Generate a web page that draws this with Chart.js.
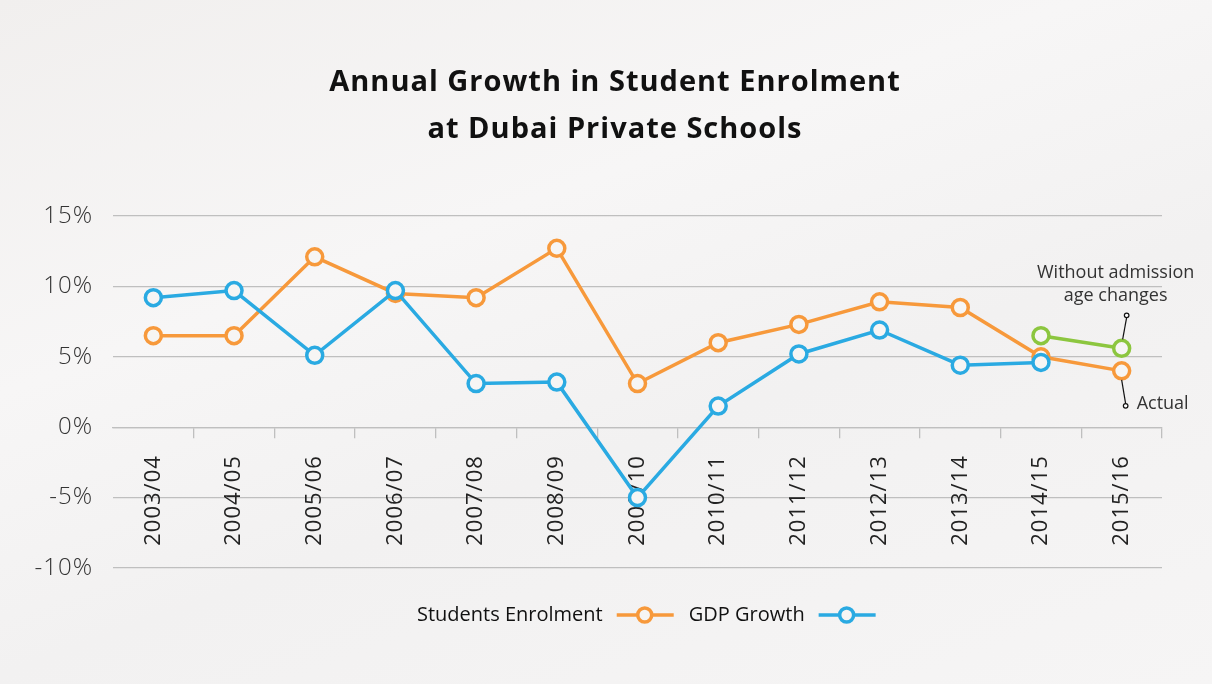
<!DOCTYPE html>
<html>
<head>
<meta charset="utf-8">
<script src="https://cdn.jsdelivr.net/npm/chart.js@4.4.1/dist/chart.umd.min.js"></script>
<style>
  html, body { margin: 0; padding: 0; width: 1212px; height: 684px; overflow: hidden;
    background: linear-gradient(160deg, #f1efee 0%, #f7f6f6 35%, #f2f1f1 60%, #f6f5f5 100%); }
  #wrap { position: relative; width: 1212px; height: 684px; }
</style>
</head>
<body>
<div id="wrap"><canvas id="c" width="1212" height="684"></canvas></div>
<script>
const categories = ['2003/04','2004/05','2005/06','2006/07','2007/08','2008/09','2009/10','2010/11','2011/12','2012/13','2013/14','2014/15','2015/16'];
const studentsEnrolment = [6.5, 6.5, 12.1, 9.5, 9.2, 12.7, 3.1, 6.0, 7.3, 8.9, 8.5, 5.0, 4.0];
const gdpGrowth = [9.2, 9.7, 5.1, 9.7, 3.1, 3.2, -5.0, 1.5, 5.2, 6.9, 4.4, 4.6, null];
const withoutAgeChanges = [null, null, null, null, null, null, null, null, null, null, null, 6.5, 5.6];
const yTicks = [-10, -5, 0, 5, 10, 15];
const titleLines = ['Annual Growth in Student Enrolment', 'at Dubai Private Schools'];
const legendItems = ['Students Enrolment', 'GDP Growth'];
const noteTop = ['Without admission', 'age changes'];
const noteBottom = 'Actual';

const ORANGE = '#f7993b', BLUE = '#2aaae2', GREEN = '#8cc63f', PTFILL = '#f6f5f4';
const GRID = '#bfbfbf';
const FONT = '"Open Sans", "Noto Sans", sans-serif';

const ds = (label, data, color, order) => ({
  label, data, order,
  borderColor: color, backgroundColor: color,
  borderWidth: 3.5, tension: 0, spanGaps: false,
  pointRadius: 8, pointHoverRadius: 8,
  pointBorderWidth: 3.5, pointBorderColor: color, pointBackgroundColor: PTFILL
});

const spacingPlugin = {
  id: 'spacing',
  beforeDraw(chart) { chart.ctx.letterSpacing = '1px'; },
  beforeDatasetsDraw(chart) { chart.ctx.letterSpacing = '0px'; }
};

const extrasPlugin = {
  id: 'extras',
  afterDraw(chart) {
    const ctx = chart.ctx;
    const x = chart.scales.x, y = chart.scales.y;
    ctx.save();
    ctx.letterSpacing = '0px';
    // annotations
    const last = categories.length - 1;
    const px = x.getPixelForValue(last);
    const gy = y.getPixelForValue(withoutAgeChanges[last]);
    const oy = y.getPixelForValue(studentsEnrolment[last]);
    ctx.strokeStyle = '#111'; ctx.lineWidth = 1.2; ctx.fillStyle = '#fff';
    ctx.beginPath(); ctx.moveTo(px + 1, gy - 9); ctx.lineTo(px + 5, gy - 31); ctx.stroke();
    ctx.beginPath(); ctx.arc(px + 5, gy - 33, 2.3, 0, Math.PI * 2); ctx.fill(); ctx.stroke();
    ctx.beginPath(); ctx.moveTo(px, oy + 9); ctx.lineTo(px + 4, oy + 33); ctx.stroke();
    ctx.beginPath(); ctx.arc(px + 4, oy + 35, 2.3, 0, Math.PI * 2); ctx.fill(); ctx.stroke();
    ctx.fillStyle = '#333';
    ctx.font = '18px ' + FONT;
    ctx.textAlign = 'center'; ctx.textBaseline = 'middle';
    ctx.fillText(noteTop[0], px - 6, gy - 75);
    ctx.fillText(noteTop[1], px - 6, gy - 52);
    ctx.textAlign = 'left';
    ctx.fillText(noteBottom, px + 15, oy + 33);
    // legend
    ctx.font = '20px ' + FONT;
    ctx.textBaseline = 'middle';
    const ly = 615;
    const colors = [ORANGE, BLUE];
    let lx = 417;
    legendItems.forEach((t, i) => {
      ctx.fillStyle = '#111';
      ctx.textAlign = 'left';
      ctx.fillText(t, lx, ly);
      const w = ctx.measureText(t).width;
      const sx = lx + w + 14;
      ctx.strokeStyle = colors[i]; ctx.lineWidth = 3.5;
      ctx.beginPath(); ctx.moveTo(sx, ly); ctx.lineTo(sx + 57, ly); ctx.stroke();
      ctx.fillStyle = PTFILL;
      ctx.beginPath(); ctx.arc(sx + 28, ly, 7, 0, Math.PI * 2); ctx.fill(); ctx.stroke();
      lx = sx + 57 + 15;
    });
    ctx.restore();
  }
};

new Chart(document.getElementById('c'), {
  type: 'line',
  data: {
    labels: categories,
    datasets: [
      ds('Students Enrolment', studentsEnrolment, ORANGE, 2),
      ds('GDP Growth', gdpGrowth, BLUE, 1),
      ds('Without admission age changes', withoutAgeChanges, GREEN, 0)
    ]
  },
  options: {
    responsive: false,
    animation: false,
    layout: { padding: { left: 18, right: 0, top: 0, bottom: 116 } },
    plugins: {
      legend: { display: false },
      tooltip: { enabled: false },
      title: {
        display: true, text: titleLines, color: '#111',
        font: { family: FONT, size: 29, weight: 'bold', lineHeight: 1.62 },
        padding: { top: 59, bottom: 63 }
      }
    },
    scales: {
      x: {
        type: 'category',
        position: { y: 0 },
        offset: true,
        afterFit(s) { s.height = 0; },
        grid: { offset: true, drawOnChartArea: false, drawTicks: true, tickLength: 10,
          color: c => c.index === 0 ? 'rgba(0,0,0,0)' : GRID, lineWidth: 1.3 },
        border: { display: true, color: GRID, width: 1.3 },
        ticks: { minRotation: 90, maxRotation: 90, autoSkip: false, padding: 18, color: '#222',
          font: { family: FONT, size: 22 } }
      },
      y: {
        min: -10, max: 15,
        afterFit(s) { s.width = 95; },
        afterBuildTicks(s) { s.ticks = yTicks.map(v => ({ value: v })); },
        grid: { drawTicks: false, color: GRID, lineWidth: 1.3 },
        border: { display: false },
        ticks: { padding: 20, color: '#333', font: { family: FONT, size: 24, weight: '300' },
          callback: v => v + '%' }
      },
      yRight: {
        position: 'right',
        display: true,
        afterFit(s) { s.width = 50; },
        grid: { display: false },
        border: { display: false },
        ticks: { display: false }
      }
    }
  },
  plugins: [spacingPlugin, extrasPlugin]
});
</script>
</body>
</html>
